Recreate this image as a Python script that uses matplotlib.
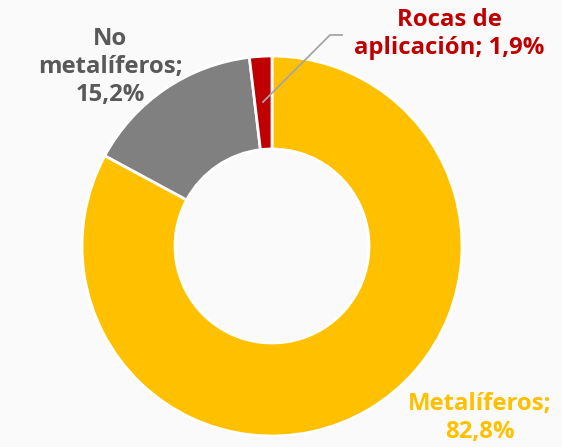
import matplotlib
matplotlib.use('Agg')
import matplotlib.pyplot as plt

# data
categories = ['Metalíferos', 'No metalíferos', 'Rocas de aplicación']
values = [82.8, 15.2, 1.9]
colors = ['#FFC000', '#808080', '#C00000']
labels = ['Metalíferos;\n82,8%', 'No\nmetalíferos;\n15,2%', 'Rocas de\naplicación; 1,9%']
label_colors = ['#FFC000', '#595959', '#C00000']

W, H = 562, 447
fig = plt.figure(figsize=(W / 100, H / 100), dpi=100, facecolor='#FAFAFA')
ax = fig.add_axes([0, 0, 1, 1])
ax.set_facecolor('#FAFAFA')
ax.axis('off')

cx, cy, r = 272, H - 246, 190
ax.pie(values, colors=colors, startangle=90, counterclock=False,
       center=(cx, cy), radius=r,
       wedgeprops=dict(width=93, edgecolor='white', linewidth=2))
ax.set_xlim(0, W)
ax.set_ylim(0, H)
ax.set_aspect('equal')

font = dict(family=['Open Sans', 'DejaVu Sans'], fontweight='bold', fontsize=17.2,
            ha='center', va='center', linespacing=1.22)
ax.text(110, H - 67, labels[1], color=label_colors[1], **font)
ax.text(480, H - 418, labels[0], color=label_colors[0], **font)
ax.text(449, H - 34, labels[2], color=label_colors[2], **font)

# leader line for the small slice
ax.plot([263, 330, 342], [H - 102, H - 35, H - 35], color='#A6A6A6', linewidth=1.3)

fig.savefig('out.png', dpi=100, facecolor=fig.get_facecolor())
